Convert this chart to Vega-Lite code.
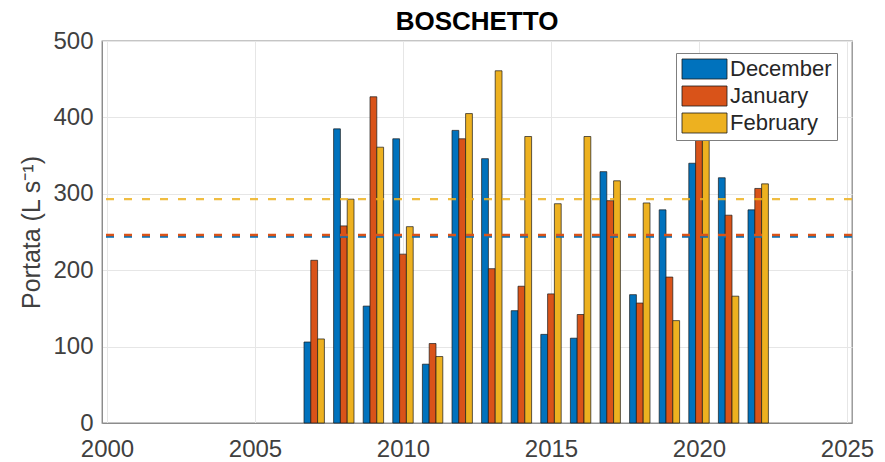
{
  "$schema": "https://vega.github.io/schema/vega-lite/v6.json",
  "autosize": {"type": "none"},
  "width": 750,
  "height": 382,
  "padding": {"left": 102, "top": 41, "right": 33, "bottom": 39},
  "background": "white",
  "title": {"text": "BOSCHETTO", "fontSize": 26, "font": "Liberation Sans", "fontWeight": "bold", "color": "#000000", "anchor": "middle", "offset": -6},
  "config": {
    "view": {"stroke": "#8c8c8c", "strokeWidth": 1.3},
    "font": "Liberation Sans",
    "axis": {"labelFont": "Liberation Sans", "titleFont": "Liberation Sans", "labelFontSize": 24, "labelColor": "#404040", "gridColor": "#e6e6e6", "gridWidth": 1, "domainColor": "#8c8c8c", "ticks": false}
  },
  "datasets": {
    "bars": [
      {"year": 2007, "month": "December", "flow": 106},
      {"year": 2007, "month": "January", "flow": 213},
      {"year": 2007, "month": "February", "flow": 110},
      {"year": 2008, "month": "December", "flow": 385},
      {"year": 2008, "month": "January", "flow": 258},
      {"year": 2008, "month": "February", "flow": 293},
      {"year": 2009, "month": "December", "flow": 153},
      {"year": 2009, "month": "January", "flow": 427},
      {"year": 2009, "month": "February", "flow": 361},
      {"year": 2010, "month": "December", "flow": 372},
      {"year": 2010, "month": "January", "flow": 221},
      {"year": 2010, "month": "February", "flow": 257},
      {"year": 2011, "month": "December", "flow": 77},
      {"year": 2011, "month": "January", "flow": 104},
      {"year": 2011, "month": "February", "flow": 87},
      {"year": 2012, "month": "December", "flow": 383},
      {"year": 2012, "month": "January", "flow": 372},
      {"year": 2012, "month": "February", "flow": 405},
      {"year": 2013, "month": "December", "flow": 346},
      {"year": 2013, "month": "January", "flow": 202},
      {"year": 2013, "month": "February", "flow": 461},
      {"year": 2014, "month": "December", "flow": 147},
      {"year": 2014, "month": "January", "flow": 179},
      {"year": 2014, "month": "February", "flow": 375},
      {"year": 2015, "month": "December", "flow": 116},
      {"year": 2015, "month": "January", "flow": 169},
      {"year": 2015, "month": "February", "flow": 287},
      {"year": 2016, "month": "December", "flow": 111},
      {"year": 2016, "month": "January", "flow": 142},
      {"year": 2016, "month": "February", "flow": 375},
      {"year": 2017, "month": "December", "flow": 329},
      {"year": 2017, "month": "January", "flow": 291},
      {"year": 2017, "month": "February", "flow": 317},
      {"year": 2018, "month": "December", "flow": 168},
      {"year": 2018, "month": "January", "flow": 157},
      {"year": 2018, "month": "February", "flow": 288},
      {"year": 2019, "month": "December", "flow": 279},
      {"year": 2019, "month": "January", "flow": 191},
      {"year": 2019, "month": "February", "flow": 134},
      {"year": 2020, "month": "December", "flow": 340},
      {"year": 2020, "month": "January", "flow": 430},
      {"year": 2020, "month": "February", "flow": 455},
      {"year": 2021, "month": "December", "flow": 321},
      {"year": 2021, "month": "January", "flow": 272},
      {"year": 2021, "month": "February", "flow": 166},
      {"year": 2022, "month": "December", "flow": 279},
      {"year": 2022, "month": "January", "flow": 307},
      {"year": 2022, "month": "February", "flow": 313}
    ],
    "means": [
      {"month": "December", "mean": 244.5},
      {"month": "January", "mean": 246},
      {"month": "February", "mean": 293}
    ]
  },
  "layer": [
    {
      "data": {"name": "bars"},
      "transform": [{"filter": "datum.month === 'December'"}],
      "mark": {"type": "bar", "width": 6.8, "xOffset": -6.8, "stroke": "#1a1a1a", "strokeWidth": 0.7},
      "encoding": {
        "x": {"field": "year", "type": "quantitative", "scale": {"domain": [2000, 2025], "nice": false, "zero": false},
              "axis": {"values": [2000, 2005, 2010, 2015, 2020, 2025], "format": "d", "title": null, "labelPadding": 14, "grid": true}},
        "y": {"field": "flow", "type": "quantitative", "scale": {"domain": [0, 500], "nice": false},
              "axis": {"values": [0, 100, 200, 300, 400, 500], "title": "Portata (L s⁻¹)", "titleFontSize": 25, "titleFontWeight": "normal", "titleColor": "#404040", "titlePadding": 8, "labelPadding": 9, "grid": true}},
        "color": {"field": "month", "type": "nominal",
                  "scale": {"domain": ["December", "January", "February"], "range": ["#0072BD", "#D95319", "#EDB120"]},
                  "legend": {"title": null, "orient": "none", "legendX": 574, "legendY": 12, "direction": "vertical",
                             "fillColor": "white", "strokeColor": "#7f7f7f", "padding": 5,
                             "symbolType": "M-1,-1H3.5V1H-1Z", "symbolSize": 400,
                             "symbolStrokeColor": "#333333", "symbolStrokeWidth": 0.8, "symbolOpacity": 1,
                             "labelFontSize": 22, "labelFont": "Liberation Sans", "labelColor": "#262626", "labelOffset": 27, "rowPadding": 3}}
      }
    },
    {
      "data": {"name": "bars"},
      "transform": [{"filter": "datum.month === 'January'"}],
      "mark": {"type": "bar", "width": 6.8, "xOffset": 0, "stroke": "#1a1a1a", "strokeWidth": 0.7},
      "encoding": {
        "x": {"field": "year", "type": "quantitative"},
        "y": {"field": "flow", "type": "quantitative"},
        "color": {"field": "month", "type": "nominal"}
      }
    },
    {
      "data": {"name": "bars"},
      "transform": [{"filter": "datum.month === 'February'"}],
      "mark": {"type": "bar", "width": 6.8, "xOffset": 6.8, "stroke": "#1a1a1a", "strokeWidth": 0.7},
      "encoding": {
        "x": {"field": "year", "type": "quantitative"},
        "y": {"field": "flow", "type": "quantitative"},
        "color": {"field": "month", "type": "nominal"}
      }
    },
    {
      "data": {"name": "means"},
      "transform": [{"filter": "datum.month === 'February'"}],
      "mark": {"type": "rule", "strokeDash": [8, 10], "strokeWidth": 2.2, "color": "#EDB120", "opacity": 0.85},
      "encoding": {"y": {"field": "mean", "type": "quantitative"}}
    },
    {
      "data": {"name": "means"},
      "transform": [{"filter": "datum.month === 'December'"}],
      "mark": {"type": "rule", "strokeDash": [8, 10], "strokeWidth": 3, "color": "#0072BD"},
      "encoding": {"y": {"field": "mean", "type": "quantitative"}}
    },
    {
      "data": {"name": "means"},
      "transform": [{"filter": "datum.month === 'January'"}],
      "mark": {"type": "rule", "strokeDash": [8, 10], "strokeWidth": 2.5, "color": "#D95319"},
      "encoding": {"y": {"field": "mean", "type": "quantitative"}}
    }
  ]
}
